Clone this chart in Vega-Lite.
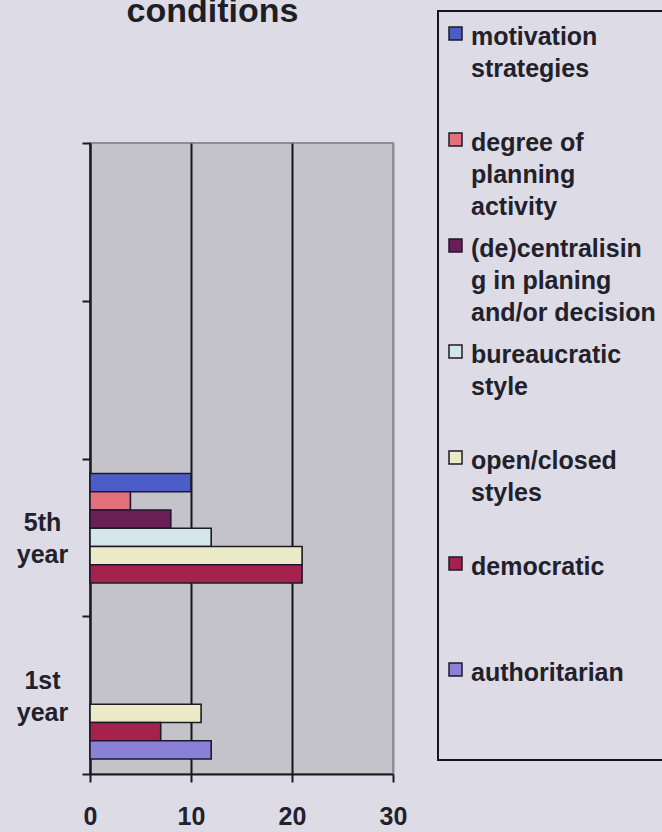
{
  "$schema": "https://vega.github.io/schema/vega-lite/v6.json",
  "width": 303,
  "height": 631,
  "autosize": {"type": "none"},
  "padding": {"left": 90, "top": 143, "right": 269, "bottom": 58},
  "background": "#dddbe5",
  "title": {
    "text": "conditions",
    "font": "Liberation Sans",
    "fontSize": 34,
    "fontWeight": "bold",
    "color": "#1e1e26",
    "anchor": "middle",
    "frame": "group",
    "baseline": "alphabetic",
    "dx": -29,
    "dy": 28,
    "offset": -18
  },
  "config": {
    "view": {"fill": "#c4c3c9", "stroke": "#8e8d95", "strokeWidth": 2}
  },
  "data": {
    "values": [
      {"year": "5th year", "style": "motivation strategies", "share": 10},
      {"year": "5th year", "style": "degree of planning activity", "share": 4},
      {"year": "5th year", "style": "(de)centralising in planing and/or decision", "share": 8},
      {"year": "5th year", "style": "bureaucratic style", "share": 12},
      {"year": "5th year", "style": "open/closed styles", "share": 21},
      {"year": "5th year", "style": "democratic", "share": 21},
      {"year": "1st year", "style": "open/closed styles", "share": 11},
      {"year": "1st year", "style": "democratic", "share": 7},
      {"year": "1st year", "style": "authoritarian", "share": 12}
    ]
  },
  "mark": {"type": "bar", "stroke": "#1c1a2a", "strokeWidth": 1.6},
  "encoding": {
    "y": {
      "field": "year",
      "type": "nominal",
      "scale": {"domain": [" ", "  ", "5th year", "1st year"], "paddingInner": 0, "paddingOuter": 0},
      "axis": {
        "title": null,
        "grid": false,
        "tickBand": "extent",
        "tickSize": 8,
        "tickWidth": 2,
        "tickColor": "#1a1a22",
        "domainColor": "#1a1a22",
        "domainWidth": 2,
        "labelExpr": "split(datum.label, ' ')",
        "labelAlign": "center",
        "labelBaseline": "middle",
        "labelOffset": -15,
        "labelPadding": 40,
        "labelLineHeight": 32,
        "labelFont": "Liberation Sans",
        "labelFontSize": 25,
        "labelFontWeight": "bold",
        "labelColor": "#22212b",
        "labelAngle": 0
      }
    },
    "yOffset": {
      "field": "style",
      "type": "nominal",
      "scale": {
        "domain": ["motivation strategies", "degree of planning activity", "(de)centralising in planing and/or decision", "bureaucratic style", "open/closed styles", "democratic", "authoritarian"],
        "paddingInner": 0,
        "paddingOuter": 0.82
      }
    },
    "x": {
      "field": "share",
      "type": "quantitative",
      "scale": {"domain": [0, 30], "nice": false},
      "axis": {
        "title": null,
        "values": [0, 10, 20, 30],
        "grid": true,
        "gridColor": {"condition": {"test": "datum.value === 30", "value": "#8e8d95"}, "value": "#15151c"},
        "gridWidth": 2,
        "tickSize": 8,
        "tickWidth": 2,
        "tickColor": "#1a1a22",
        "domainColor": "#1a1a22",
        "domainWidth": 2,
        "labelPadding": 22,
        "labelFlush": false,
        "labelFont": "Liberation Sans",
        "labelFontSize": 25,
        "labelFontWeight": "bold",
        "labelColor": "#22212b"
      }
    },
    "color": {
      "field": "style",
      "type": "nominal",
      "scale": {
        "domain": ["motivation strategies", "degree of planning activity", "(de)centralising in planing and/or decision", "bureaucratic style", "open/closed styles", "democratic", "authoritarian"],
        "range": ["#4b5dc6", "#e4707c", "#6b1d55", "#d3e6ea", "#ecebc8", "#a6224e", "#8b80d8"]
      },
      "legend": {
        "title": null,
        "orient": "none",
        "legendX": 348,
        "legendY": -132,
        "padding": 10,
        "strokeColor": "#15151c",
        "symbolType": "square",
        "symbolSize": 169,
        "symbolOffset": -5,
        "symbolStrokeColor": "#1c1a2a",
        "symbolStrokeWidth": 1.5,
        "symbolOpacity": 1,
        "labelFont": "Liberation Sans",
        "labelFontSize": 25,
        "labelFontWeight": "bold",
        "labelColor": "#22212b",
        "labelLimit": 400,
        "labelOffset": 3,
        "labelBaseline": "alphabetic",
        "rowPadding": 13,
        "labelExpr": "datum.label == 'motivation strategies' ? ['motivation', 'strategies', ''] : datum.label == 'degree of planning activity' ? ['degree of', 'planning', 'activity'] : datum.label == '(de)centralising in planing and/or decision' ? ['(de)centralisin', 'g in planing', 'and/or decision'] : datum.label == 'bureaucratic style' ? ['bureaucratic', 'style', ''] : datum.label == 'open/closed styles' ? ['open/closed', 'styles', ''] : [datum.label, '', '']",
        "encode": {
          "legend": {"update": {"strokeWidth": {"value": 2}}},
          "labels": {"update": {"dy": {"value": 11}, "lineHeight": {"value": 32}}}
        }
      }
    }
  }
}
